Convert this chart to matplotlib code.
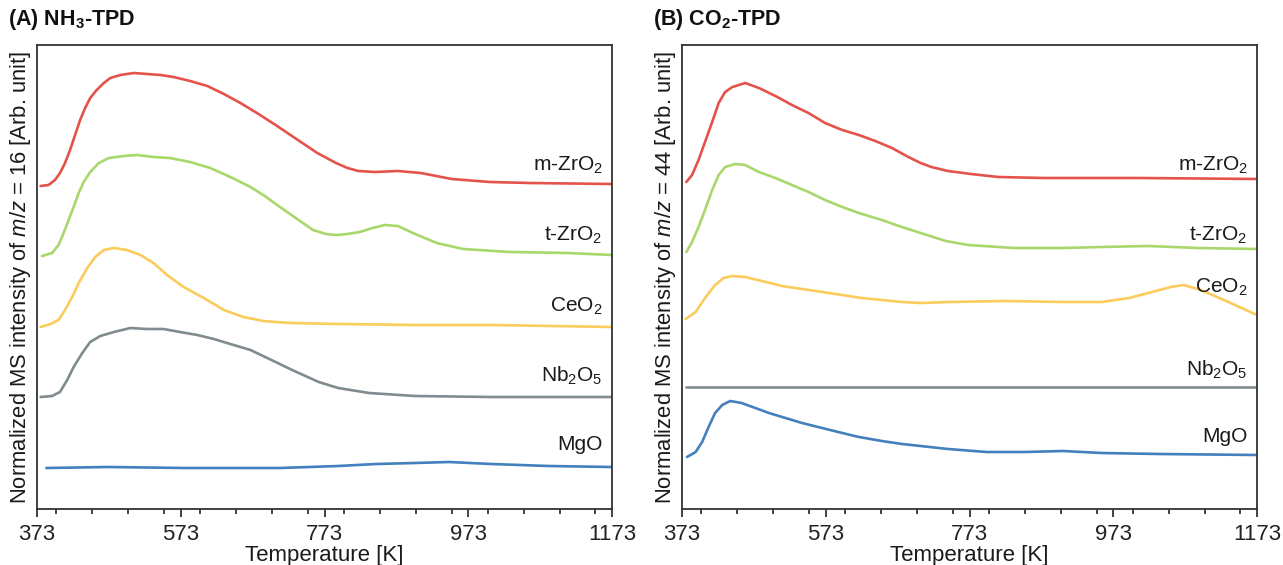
import matplotlib
matplotlib.use("Agg")
import matplotlib.pyplot as plt
from matplotlib.ticker import MultipleLocator, FixedLocator

plt.rcParams['font.family'] = ['Liberation Sans', 'DejaVu Sans']
plt.rcParams['mathtext.fontset'] = 'custom'
plt.rcParams['mathtext.rm'] = 'Liberation Sans'
plt.rcParams['mathtext.it'] = 'Liberation Sans:italic'
plt.rcParams['mathtext.bf'] = 'Liberation Sans:bold'

# ---------------- Panel A: NH3-TPD (temperature [K], intensity [arb.]) ----------------
a_mzro2_T = [378, 389, 398, 405, 412, 419, 426, 433, 440, 447, 456, 466, 475, 489, 508, 526,
             545, 563, 586, 610, 633, 656, 679, 705, 736, 763, 789, 805, 820, 843, 875, 907,
             950, 1003, 1058, 1173]
a_mzro2_I = [323, 324, 329, 336, 346, 359, 374, 389, 401, 411, 419, 426, 431, 434, 436, 435,
             434, 432, 428, 423, 415, 406, 396, 384, 369, 356, 346, 341, 338, 337, 338, 336,
             330, 327, 326, 325]

a_tzro2_T = [380, 394, 403, 410, 417, 424, 431, 438, 447, 459, 473, 494, 512, 535, 558, 586,
             614, 642, 670, 690, 705, 725, 757, 775, 790, 805, 822, 840, 857, 875, 896, 929,
             966, 1031, 1111, 1173]
a_tzro2_I = [253, 256, 264, 276, 289, 302, 316, 327, 337, 346, 351, 353, 354, 352, 351, 347,
             341, 332, 322, 313, 305, 295, 279, 275, 274, 275, 277, 281, 284, 283, 276, 266,
             260, 257, 256, 254]

a_ceo2_T = [378, 392, 403, 412, 422, 431, 443, 454, 466, 480, 498, 517, 535, 554, 577, 605,
            633, 660, 688, 705, 728, 792, 899, 1005, 1173]
a_ceo2_I = [182, 185, 189, 199, 212, 226, 241, 252, 259, 261, 259, 254, 246, 234, 222, 211,
            199, 192, 188, 187, 186, 185, 184, 184, 182]

a_nb2o5_T = [378, 394, 405, 415, 424, 436, 447, 461, 480, 503, 526, 549, 572, 596, 619, 642,
             670, 705, 728, 765, 792, 835, 899, 1005, 1173]
a_nb2o5_I = [112, 113, 117, 129, 142, 156, 167, 173, 177, 181, 180, 180, 177, 174, 170, 165,
             159, 147, 139, 127, 121, 116, 113, 112, 112]

a_mgo_T = [386, 472, 578, 711, 792, 845, 899, 946, 1005, 1085, 1173]
a_mgo_I = [41, 42, 41, 41, 43, 45, 46, 47, 45, 43, 42]

# ---------------- Panel B: CO2-TPD ----------------
b_mzro2_T = [379, 387, 396, 405, 415, 424, 433, 443, 461, 480, 503, 526, 549, 572, 596, 619,
             642, 665, 688, 705, 720, 743, 775, 813, 877, 1010, 1173]
b_mzro2_I = [327, 334, 349, 367, 387, 406, 417, 422, 426, 421, 413, 404, 396, 386, 379, 374,
             368, 361, 352, 346, 342, 338, 335, 332, 331, 331, 330]

b_tzro2_T = [379, 387, 396, 405, 415, 424, 433, 447, 461, 480, 503, 526, 549, 572, 596, 619,
             651, 679, 705, 740, 771, 835, 903, 957, 1021, 1091, 1173]
b_tzro2_I = [257, 267, 282, 299, 319, 334, 342, 345, 344, 337, 331, 324, 317, 309, 302, 296,
             289, 282, 276, 268, 264, 261, 261, 262, 263, 261, 260]

b_ceo2_T = [378, 392, 405, 419, 431, 443, 461, 484, 512, 540, 568, 596, 623, 651, 679, 705,
            743, 824, 903, 957, 995, 1027, 1053, 1071, 1095, 1127, 1173]
b_ceo2_I = [190, 197, 211, 224, 231, 233, 232, 228, 223, 220, 217, 214, 211, 209, 207, 206,
            207, 208, 207, 207, 211, 217, 222, 224, 219, 209, 194]

b_nb2o5_T = [379, 600, 800, 1000, 1173]
b_nb2o5_I = [122, 122, 122, 122, 122]

b_mgo_T = [380, 392, 401, 410, 419, 429, 440, 456, 475, 494, 517, 540, 568, 596, 619, 651,
           679, 705, 743, 797, 850, 903, 957, 1037, 1173]
b_mgo_I = [52, 57, 67, 82, 96, 104, 108, 106, 101, 96, 91, 86, 81, 76, 72, 68,
           65, 63, 60, 57, 57, 58, 56, 55, 54]

labels = ["m-ZrO$_2$", "t-ZrO$_2$", "CeO$_2$", "Nb$_2$O$_5$", "MgO"]
colors = ["#E4534B", "#A8D86C", "#FBCB5C", "#7F8B8E", "#4480BE"]
label_y_a = [344, 274, 203, 133, 64]
label_y_b = [344, 274, 222, 139, 72]
xticks = [373, 573, 773, 973, 1173]

fig = plt.figure(figsize=(12.83, 5.65), dpi=100)
axA = fig.add_axes([37/1283, 56/565, 575/1283, 464/565])
axB = fig.add_axes([682/1283, 56/565, 575/1283, 464/565])

panelA = [(a_mzro2_T, a_mzro2_I), (a_tzro2_T, a_tzro2_I), (a_ceo2_T, a_ceo2_I),
          (a_nb2o5_T, a_nb2o5_I), (a_mgo_T, a_mgo_I)]
panelB = [(b_mzro2_T, b_mzro2_I), (b_tzro2_T, b_tzro2_I), (b_ceo2_T, b_ceo2_I),
          (b_nb2o5_T, b_nb2o5_I), (b_mgo_T, b_mgo_I)]

for ax, data, ly, title, mz in [(axA, panelA, label_y_a, r"(A) NH$_\mathbf{3}$-TPD", "16"),
                                (axB, panelB, label_y_b, r"(B) CO$_\mathbf{2}$-TPD", "44")]:
    for (T, I), c, lab, yy in zip(data, colors, labels, ly):
        ax.plot(T, I, color=c, lw=1.9, solid_joinstyle='round', solid_capstyle='round')
        ax.text(1160, yy, lab, ha='right', va='center', fontsize=15, color='#1a1a1a')
    ax.set_xlim(373, 1173)
    ax.set_ylim(0, 464)
    ax.xaxis.set_major_locator(FixedLocator(xticks))
    ax.xaxis.set_minor_locator(MultipleLocator(50))
    ax.set_xticklabels([str(t) for t in xticks])
    ax.tick_params(axis='x', which='major', direction='out', length=6, width=1.2,
                   labelsize=16, pad=5, colors='#222222')
    ax.tick_params(axis='x', which='minor', direction='out', length=3.5, width=1.2,
                   colors='#222222')
    ax.tick_params(axis='y', left=False, labelleft=False)
    for s in ax.spines.values():
        s.set_linewidth(1.3)
        s.set_color('#333333')
    ax.set_xlabel("Temperature [K]", fontsize=16, labelpad=0, color='#1a1a1a')
    ax.set_ylabel("Normalized MS intensity of $m/z$ = " + mz + " [Arb. unit]",
                  fontsize=15.8, labelpad=3, color='#1a1a1a')
    ax.text(-0.05, 1.055, title, transform=ax.transAxes, fontsize=15.5,
            fontweight='bold', ha='left', va='center', color='#111111')

fig.savefig("out.png", dpi=100)
